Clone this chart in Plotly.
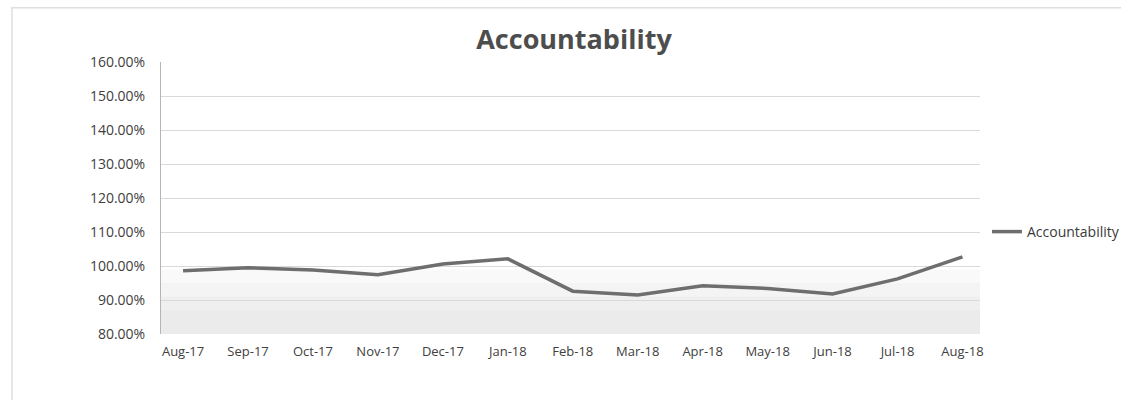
import plotly.graph_objects as go

months = ["Aug-17", "Sep-17", "Oct-17", "Nov-17", "Dec-17", "Jan-18", "Feb-18",
          "Mar-18", "Apr-18", "May-18", "Jun-18", "Jul-18", "Aug-18"]
accountability = [0.986, 0.995, 0.988, 0.974, 1.006, 1.021, 0.926,
                  0.915, 0.942, 0.934, 0.918, 0.962, 1.027]
y_ticks = [0.8, 0.9, 1.0, 1.1, 1.2, 1.3, 1.4, 1.5, 1.6]

font_family = "'Open Sans', Lato, sans-serif"
text_color = "#404040"

fig = go.Figure()
fig.add_trace(go.Scatter(
    x=months, y=accountability, mode="lines", name="Accountability",
    line=dict(color="#6e6e6e", width=3.5),
))

shapes = []
# faint scan-like shading in the lower plot area (stepped to imitate a gradient)
for top, alpha in [(0.99, 0.07), (0.95, 0.06), (0.91, 0.06), (0.87, 0.05)]:
    shapes.append(dict(type="rect", xref="paper", yref="y", x0=0, x1=1, y0=0.8, y1=top,
                       fillcolor=f"rgba(170,170,170,{alpha})", line=dict(width=0),
                       layer="below"))
# outer chart frame
shapes.append(dict(type="rect", xref="paper", yref="paper", x0=-0.182, x1=1.25,
                   y0=-0.4, y1=1.199, line=dict(color="#dedede", width=1.5),
                   fillcolor="rgba(0,0,0,0)"))

fig.update_layout(
    width=1121, height=400,
    margin=dict(l=161, r=141, t=62, b=66, autoexpand=False),
    paper_bgcolor="white", plot_bgcolor="white",
    title=dict(text="<b>Accountability</b>", x=574 / 1121, xanchor="center",
               y=0.9, yanchor="middle",
               font=dict(family=font_family, size=27, color="#4d4d4d")),
    font=dict(family=font_family, size=13, color=text_color),
    showlegend=True,
    legend=dict(x=1.0085, xanchor="left", y=0.375, yanchor="middle",
                font=dict(size=14, color="#3a3a3a"),
                bgcolor="rgba(0,0,0,0)", itemwidth=30),
    shapes=shapes,
)
fig.update_xaxes(
    type="category", range=[-0.34, 12.27], showgrid=False,
    showline=False, ticks="", ticklabelstandoff=8,
    tickfont=dict(size=13, color=text_color),
)
fig.update_yaxes(
    range=[0.8, 1.6], tickvals=y_ticks, tickformat=".2%",
    showgrid=True, gridcolor="#d9d9d9", gridwidth=1,
    showline=True, linecolor="#b5b5b5", linewidth=1,
    zeroline=False, ticks="", ticklabelstandoff=12,
    tickfont=dict(size=14, color=text_color),
)

fig.write_html("out.html", config={"displayModeBar": False},
               post_script="document.body.style.margin='0';")
